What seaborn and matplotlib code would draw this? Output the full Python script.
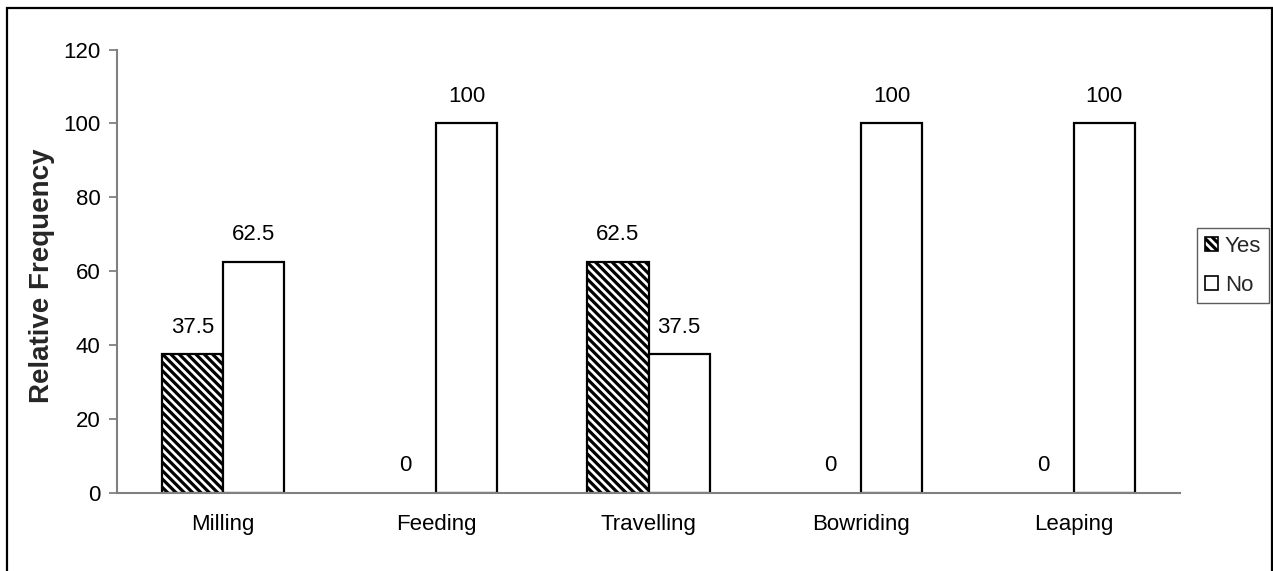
import numpy as np
import pandas as pd
import seaborn as sns
import matplotlib
matplotlib.use("Agg")
import matplotlib.pyplot as plt
from matplotlib.patches import Patch, Rectangle

# ---- data ----
categories = ["Milling", "Feeding", "Travelling", "Bowriding", "Leaping"]
yes_values = [37.5, 0, 62.5, 0, 0]
no_values = [62.5, 100, 37.5, 100, 100]
series = ["Yes", "No"]
y_ticks = [0, 20, 40, 60, 80, 100, 120]

df = pd.DataFrame({
    "Behaviour": categories * 2,
    "Response": ["Yes"] * len(categories) + ["No"] * len(categories),
    "Value": yes_values + no_values,
})

sns.set_theme(style="white")
plt.rcParams["font.family"] = ["Liberation Sans", "DejaVu Sans"]
plt.rcParams["hatch.linewidth"] = 2.3
plt.rcParams["hatch.color"] = "black"

TXT = 16
W, H = 1273, 571
fig = plt.figure(figsize=(W / 100, H / 100), dpi=100)
fig.patch.set_facecolor("white")
ax = fig.add_axes([117 / W, 1 - 493 / H, (1180 - 117) / W, (493 - 49.5) / H])

sns.barplot(
    data=df, x="Behaviour", y="Value", hue="Response", hue_order=series,
    order=categories, palette={"Yes": "white", "No": "white"},
    width=0.574, edgecolor="black", linewidth=1.6, saturation=1,
    legend=False, ax=ax, errorbar=None,
)

HATCH = "\\\\\\\\"
for container, name in zip(ax.containers, series):
    for bar, val in zip(container, df.loc[df.Response == name, "Value"]):
        if name == "Yes":
            bar.set_hatch(HATCH)
        if val == 0:
            bar.set_linewidth(0)
        ax.annotate(f"{val:g}", (bar.get_x() + bar.get_width() / 2, val),
                    xytext=(0, 12), textcoords="offset points",
                    ha="center", va="bottom", fontsize=TXT, color="black")

ax.set_xlim(-0.5, len(categories) - 0.5)
ax.set_ylim(0, 120)
ax.set_yticks(y_ticks)
ax.set_yticklabels([str(t) for t in y_ticks], fontsize=TXT, color="black")
ax.set_xticks(range(len(categories)))
ax.set_xticklabels(categories, fontsize=TXT, color="black")
ax.set_xticks(np.arange(-0.5, len(categories)), minor=True)
ax.tick_params(axis="x", which="major", length=0, pad=15)
ax.tick_params(axis="x", which="minor", length=6, width=1.3, color="#808080", direction="out")
ax.tick_params(axis="y", length=6, width=1.3, color="#808080", direction="out", pad=6, left=True)
ax.set_xlabel("")
ax.set_ylabel("Relative Frequency", fontsize=20, fontweight="bold")
ax.yaxis.set_label_coords(-0.058, 0.49)

for side in ("top", "right"):
    ax.spines[side].set_visible(False)
for side in ("left", "bottom"):
    ax.spines[side].set_color("#808080")
    ax.spines[side].set_linewidth(1.5)
ax.grid(False)

handles = [
    Patch(facecolor="white", edgecolor="black", hatch=HATCH, linewidth=1.2, label="Yes"),
    Patch(facecolor="white", edgecolor="black", linewidth=1.2, label="No"),
]
leg = fig.legend(
    handles=handles, loc="upper left",
    bbox_to_anchor=(1197 / W, 1 - 228 / H), bbox_transform=fig.transFigure,
    borderaxespad=0, fontsize=TXT, frameon=True, fancybox=False, shadow=False,
    handlelength=0.6, handleheight=0.6, handletextpad=0.3,
    labelspacing=0.8, borderpad=0.35,
)
leg.get_frame().set_edgecolor("#333333")
leg.get_frame().set_linewidth(1.0)

# outer frame around the whole chart
fig.patches.append(Rectangle((6.5 / W, -0.02), (1271.5 - 6.5) / W, 1.02 - 7.5 / H,
                             transform=fig.transFigure, fill=False,
                             edgecolor="black", linewidth=1.6))

fig.savefig("out.png", dpi=100, facecolor="white")
